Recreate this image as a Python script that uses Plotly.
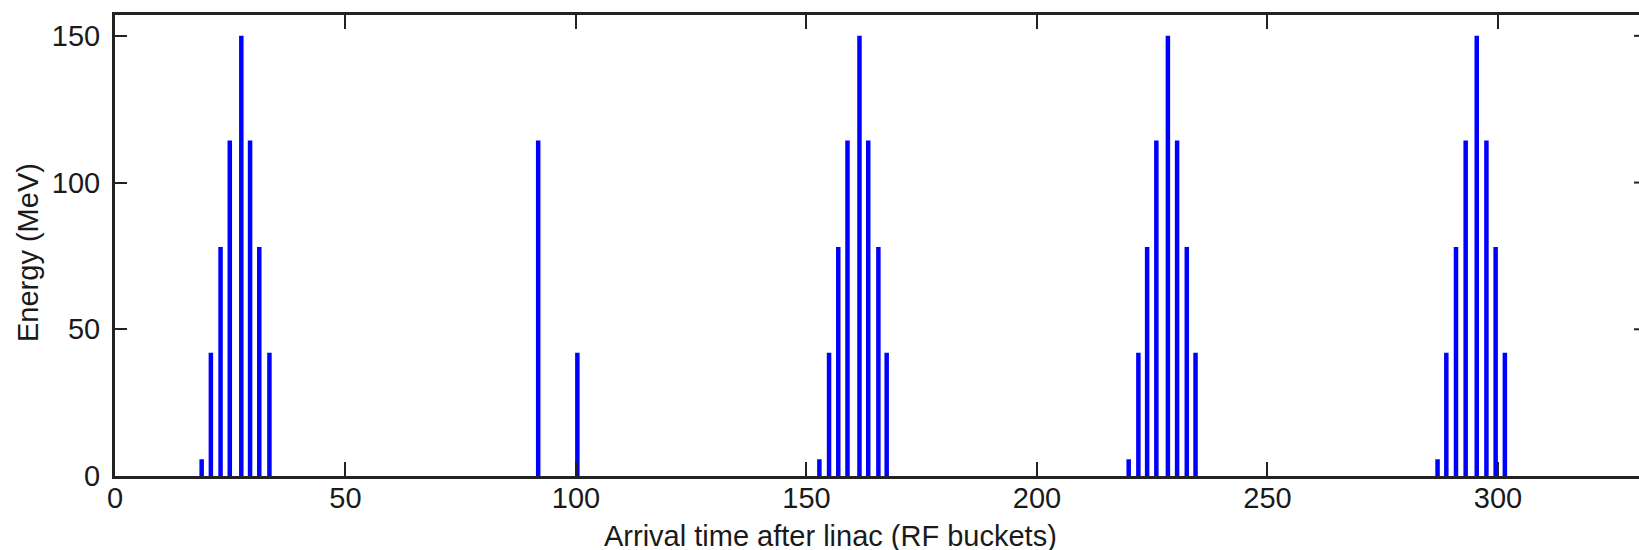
import plotly.graph_objects as go

# Arrival time (RF buckets) and energy (MeV) of each bunch
arrival = [18.8, 20.8, 22.9, 24.9, 27.4, 29.3, 31.3, 33.5,
           91.8, 100.3,
           152.8, 154.9, 156.9, 158.9, 161.5, 163.4, 165.6, 167.4,
           219.9, 222.0, 223.9, 225.9, 228.4, 230.4, 232.5, 234.4,
           286.9, 288.8, 290.9, 293.0, 295.4, 297.5, 299.5, 301.5]
energy = [5.7, 42, 78, 114.3, 150, 114.3, 78, 42,
          114.3, 42,
          5.7, 42, 78, 114.3, 150, 114.3, 78, 42,
          5.7, 42, 78, 114.3, 150, 114.3, 78, 42,
          5.7, 42, 78, 114.3, 150, 114.3, 78, 42]

x_ticks = [0, 50, 100, 150, 200, 250, 300]
y_ticks = [0, 50, 100, 150]

W, H = 1639, 550
L, T, B, R = 115, 15, 74, 0
x_range = [0, 330.6]
y_range = [0, 157.1]

xs, ys = [], []
for a, e in zip(arrival, energy):
    xs += [a, a, None]
    ys += [0, e, None]

fig = go.Figure()
fig.add_trace(go.Scatter(x=xs, y=ys, mode="lines",
                         line=dict(color="#0000ff", width=4.5),
                         hoverinfo="skip", showlegend=False))

font = dict(family="Liberation Sans, Arial, sans-serif", size=29, color="#1a1a1a")
axis_col = "#222222"

fig.update_layout(
    width=W, height=H,
    margin=dict(l=L, r=R, t=T, b=B, pad=0),
    paper_bgcolor="white", plot_bgcolor="white",
    font=font,
    showlegend=False,
    xaxis=dict(range=x_range, tickvals=x_ticks, ticktext=[str(v) for v in x_ticks],
               showgrid=False, zeroline=False, showline=True, linecolor=axis_col,
               linewidth=3, mirror="ticks", ticks="inside", ticklen=14, tickwidth=2,
               tickcolor=axis_col, tickfont=font, ticklabelstandoff=-6),
    yaxis=dict(range=y_range, tickvals=y_ticks, ticktext=[str(v) for v in y_ticks],
               showgrid=False, zeroline=False, showline=True, linecolor=axis_col,
               linewidth=3, mirror=False, ticks="inside", ticklen=12, tickwidth=2,
               tickcolor=axis_col, tickfont=font, ticklabelstandoff=6),
)

plot_w = W - L - R
plot_h = H - T - B

# right-hand axis tick stubs visible at the image edge
for v in y_ticks[1:]:
    fig.add_shape(type="line", xref="paper", yref="y",
                  x0=1 - 5 / plot_w, x1=1.0, y0=v, y1=v,
                  line=dict(color=axis_col, width=2))

fig.add_annotation(text="Arrival time after linac (RF buckets)", xref="paper", yref="paper",
                   x=(830 - L) / plot_w, y=(H - B - 536) / plot_h,
                   xanchor="center", yanchor="middle", showarrow=False, font=font)
fig.add_annotation(text="Energy (MeV)", xref="paper", yref="paper",
                   x=(28 - L) / plot_w, y=(H - B - 253) / plot_h,
                   xanchor="center", yanchor="middle", textangle=-90,
                   showarrow=False, font=font)

fig.write_html("out.html")
